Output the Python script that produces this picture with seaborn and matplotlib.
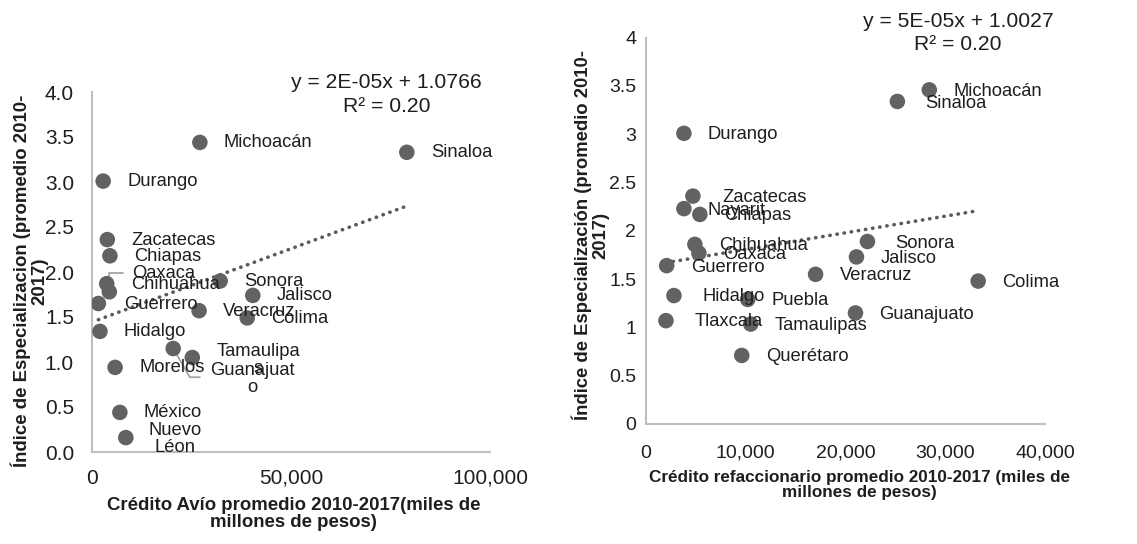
import matplotlib
matplotlib.use("Agg")
import matplotlib.pyplot as plt
import seaborn as sns
import pandas as pd
import numpy as np
from matplotlib.ticker import FuncFormatter, MultipleLocator

# ---------------- data ----------------
avio_states = ["Michoacán", "Sinaloa", "Durango", "Zacatecas", "Chiapas", "Chihuahua",
               "Oaxaca", "Guerrero", "Hidalgo", "Morelos", "México", "Nuevo\nLéon",
               "Guanajuat\no", "Tamaulipa\ns", "Sonora", "Jalisco", "Veracruz", "Colima"]
avio_credit = [27100, 79100, 2800, 3850, 4500, 3700,
               4350, 1600, 2000, 5800, 7000, 8500,
               20400, 25200, 32200, 40400, 26900, 39000]
avio_index = [3.44, 3.33, 3.01, 2.36, 2.18, 1.87,
              1.78, 1.65, 1.34, 0.94, 0.44, 0.16,
              1.15, 1.05, 1.90, 1.74, 1.57, 1.49]
avio_trend = [1.63e-05, 1.444]          # slope, intercept of drawn trend line
avio_eq = ["y = 2E-05x + 1.0766", "R² = 0.20"]

refa_states = ["Michoacán", "Sinaloa", "Durango", "Zacatecas", "Nayarit", "Chiapas",
               "Chihuahua", "Oaxaca", "Guerrero", "Hidalgo", "Tlaxcala", "Puebla",
               "Tamaulipas", "Querétaro", "Veracruz", "Sonora", "Jalisco", "Colima",
               "Guanajuato"]
refa_credit = [28400, 25200, 3800, 4700, 3800, 5400,
               4900, 5300, 2070, 2800, 2000, 10200,
               10500, 9600, 17000, 22200, 21100, 33300,
               21000]
refa_index = [3.46, 3.34, 3.01, 2.36, 2.23, 2.17,
              1.86, 1.77, 1.64, 1.33, 1.07, 1.29,
              1.035, 0.71, 1.55, 1.89, 1.73, 1.48,
              1.15]
refa_trend = [1.72e-05, 1.636]
refa_eq = ["y = 5E-05x + 1.0027", "R² = 0.20"]

# ---------------- style ----------------
sns.set_theme(style="white")
plt.rcParams["font.family"] = ["Liberation Sans", "DejaVu Sans"]

W, H = 1137, 544
fig = plt.figure(figsize=(W / 100, H / 100), dpi=100)

MARK = "#626262"
TXT = "#1e1e1e"
SPINE = "#BFBFBF"
LEAD = "#A6A6A6"


def px_axes(l, t, r, b):
    return [l / W, 1 - b / H, (r - l) / W, (b - t) / H]


ax1 = fig.add_axes(px_axes(92, 92, 490, 452))
ax2 = fig.add_axes(px_axes(646, 37.7, 1045, 424))

df1 = pd.DataFrame({"estado": avio_states, "credito": avio_credit, "indice": avio_index})
df2 = pd.DataFrame({"estado": refa_states, "credito": refa_credit, "indice": refa_index})

for ax, df, trend in [(ax1, df1, avio_trend), (ax2, df2, refa_trend)]:
    sns.scatterplot(data=df, x="credito", y="indice", ax=ax, s=125, color=MARK,
                    edgecolor="none", linewidth=0, zorder=4, legend=False)
    xs = np.array([df["credito"].min(), df["credito"].max()])
    ax.plot(xs, trend[0] * xs + trend[1], color="#5a5a5a", lw=2.6,
            linestyle=(0, (0.1, 1.9)), dash_capstyle="round", zorder=3)
    for s in ["top", "right"]:
        ax.spines[s].set_visible(False)
    for s in ["left", "bottom"]:
        ax.spines[s].set_color(SPINE)
        ax.spines[s].set_linewidth(1.5)
    ax.tick_params(length=0, colors=TXT)
    ax.set_ylim(0, 4)
    ax.yaxis.set_major_locator(MultipleLocator(0.5))

# axis 1
ax1.set_xlim(0, 100000)
ax1.xaxis.set_major_locator(MultipleLocator(50000))
ax1.xaxis.set_major_formatter(FuncFormatter(lambda v, p: f"{v:,.0f}"))
ax1.yaxis.set_major_formatter(FuncFormatter(lambda v, p: f"{v:.1f}"))
ax1.tick_params(axis="y", labelsize=15, pad=13)
ax1.tick_params(axis="x", labelsize=15, pad=12)

# axis 2
ax2.set_xlim(0, 40000)
ax2.xaxis.set_major_locator(MultipleLocator(10000))
ax2.xaxis.set_major_formatter(FuncFormatter(lambda v, p: f"{v:,.0f}"))
ax2.yaxis.set_major_formatter(FuncFormatter(lambda v, p: f"{v:g}"))
ax2.tick_params(axis="y", labelsize=14, pad=7)
ax2.tick_params(axis="x", labelsize=14, pad=15)

# axis labels
ax1.set_xlabel("Crédito Avío promedio 2010-2017(miles de\nmillones de pesos)",
               fontsize=13.4, fontweight="bold", color=TXT, va="center", linespacing=1.0)
ax1.xaxis.set_label_coords(0.506, -0.171)
ax1.set_ylabel("Índice de Especializacion (promedio 2010-\n2017)",
               fontsize=13.4, fontweight="bold", color=TXT, va="center", linespacing=1.0)
ax1.yaxis.set_label_coords(-0.157, 0.475)

ax2.set_xlabel("Crédito refaccionario promedio 2010-2017 (miles de\nmillones de pesos)",
               fontsize=12.3, fontweight="bold", color=TXT, va="center", linespacing=1.0)
ax2.xaxis.set_label_coords(0.536, -0.157)
ax2.set_ylabel("Índice de Especialización (promedio 2010-\n2017)",
               fontsize=13.3, fontweight="bold", color=TXT, va="center", linespacing=1.0)
ax2.yaxis.set_label_coords(-0.140, 0.489)

# equations
for (cx, y1, y2), eq in [((386.7, 82.7, 107), avio_eq), ((958, 21.7, 44.3), refa_eq)]:
    fig.text(cx / W, 1 - y1 / H, eq[0], ha="center", va="center", fontsize=15.2, color=TXT)
    fig.text(cx / W, 1 - y2 / H, eq[1], ha="center", va="center", fontsize=15.2, color=TXT)

# data labels (offsets in pixels: dx right, dy down)
avio_off = {"Oaxaca": (23, -18.4), "Guanajuat\no": (37.4, 30.4), "Tamaulipa\ns": (24, 2.4),
            "Nuevo\nLéon": (23, 1.4), "Guerrero": (26, 1)}
refa_off = {"Zacatecas": (29, 1), "Hidalgo": (29, 1), "Tlaxcala": (29, 1),
            "Sonora": (28, 1.6), "Sinaloa": (28, 2.3)}


def add_labels(ax, df, offs, default, fs):
    for _, r in df.iterrows():
        dx, dy = offs.get(r["estado"], default)
        ax.annotate(r["estado"], (r["credito"], r["indice"]), xytext=(dx, -dy),
                    textcoords="offset pixels", ha="left", va="center",
                    multialignment="center", fontsize=fs, color=TXT, zorder=5,
                    linespacing=1.05)


add_labels(ax1, df1, avio_off, (24, 0.5), 13.2)
add_labels(ax2, df2, refa_off, (24, 1.5), 13.2)

# leader lines (left chart)
row = df1[df1.estado == "Oaxaca"].iloc[0]
ax1.annotate("", xy=(row.credito, row.indice), xytext=(14, 19), textcoords="offset pixels",
             arrowprops=dict(arrowstyle="-", color=LEAD, lw=1.3, shrinkA=0, shrinkB=0,
                             connectionstyle="angle,angleA=0,angleB=90,rad=0"), zorder=2)
row = df1[df1.estado == "Guanajuat\no"].iloc[0]
ax1.annotate("", xy=(row.credito, row.indice), xytext=(26.7, -28.7), textcoords="offset pixels",
             arrowprops=dict(arrowstyle="-", color=LEAD, lw=1.3, shrinkA=0, shrinkB=0,
                             connectionstyle="angle,angleA=0,angleB=-60,rad=0"), zorder=2)

fig.savefig("out.png", dpi=100, facecolor="white")
